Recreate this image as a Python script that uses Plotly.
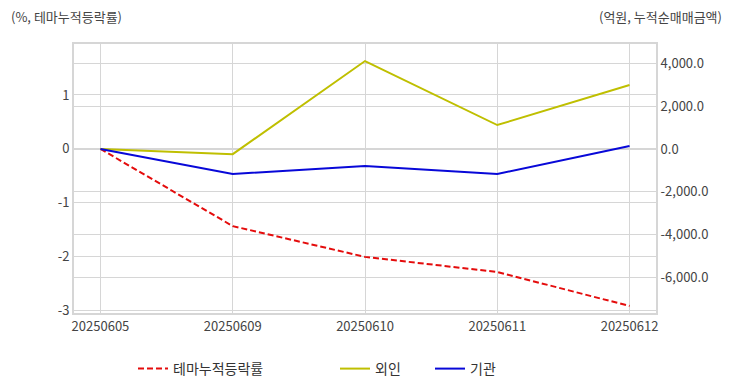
import plotly.graph_objects as go

dates = ["20250605", "20250609", "20250610", "20250611", "20250612"]
theme_pct = [0.0, -1.43, -2.0, -2.28, -2.91]
foreign = [0.0, -240.0, 4110.0, 1120.0, 2990.0]
institution = [0.0, -1170.0, -790.0, -1170.0, 140.0]

left_ticks = [-3, -2, -1, 0, 1]
left_labels = ["-3", "-2", "-1", "0", "1"]
right_ticks = [-6000, -4000, -2000, 0, 2000, 4000]
right_labels = ["-6,000.0", "-4,000.0", "-2,000.0", "0.0", "2,000.0", "4,000.0"]

FONT = "Noto Sans CJK KR"
W, H = 724, 384
L, R, T, B = 66, 76, 36, 79
PW, PH = W - L - R, H - T - B
LEG_Y = 1 - 361 / H

fig = go.Figure()
fig.add_trace(go.Scatter(x=dates, y=theme_pct, name="테마누적등락률", mode="lines",
                         line=dict(color="#e40c0c", width=2, dash="6px,3px"), yaxis="y",
                         legend="legend"))
fig.add_trace(go.Scatter(x=dates, y=foreign, name="외인", mode="lines",
                         line=dict(color="#bfbf00", width=2), yaxis="y2", legend="legend2"))
fig.add_trace(go.Scatter(x=dates, y=institution, name="기관", mode="lines",
                         line=dict(color="#0808d8", width=2), yaxis="y2", legend="legend2"))

grid = "#d6d6d6"
tickc = "#444"
fig.update_layout(
    width=W, height=H,
    margin=dict(l=L, r=R, t=T, b=B, autoexpand=False),
    plot_bgcolor="white", paper_bgcolor="white",
    font=dict(family=FONT, size=13, color=tickc),
    showlegend=True,
    legend=dict(orientation="h", xref="container", yref="container",
                x=125 / W, xanchor="left", y=LEG_Y, yanchor="middle",
                font=dict(size=14, color="#333"), bgcolor="rgba(0,0,0,0)"),
    legend2=dict(orientation="h", xref="container", yref="container",
                 x=327 / W, xanchor="left", y=LEG_Y, yanchor="middle",
                 font=dict(size=14, color="#333"), entrywidth=50,
                 bgcolor="rgba(0,0,0,0)"),
    xaxis=dict(type="category", range=[-0.2, 4.2], showgrid=True, gridcolor=grid,
               showline=True, linecolor=grid, linewidth=2, mirror=True, ticks="",
               tickfont=dict(size=13, color=tickc), automargin=False),
    yaxis=dict(range=[-3.04, 1.944], tickvals=left_ticks, ticktext=left_labels,
               showgrid=True, gridcolor=grid, automargin=False,
               zeroline=False, showline=True, linecolor=grid, linewidth=2,
               tickfont=dict(size=13, color=tickc), ticks=""),
    yaxis2=dict(range=[-7664, 4907], tickvals=right_ticks, ticktext=right_labels,
                overlaying="y", side="right", automargin=False,
                showgrid=True, gridcolor=grid, zeroline=False,
                showline=True, linecolor=grid, linewidth=2, ticks="",
                tickfont=dict(size=13, color=tickc)),
    annotations=[
        dict(text="(%, 테마누적등락률)", xref="paper", yref="paper", x=(1 - L) / PW, y=1.0,
             xanchor="left", yanchor="middle", yshift=T - 8, showarrow=False,
             font=dict(size=13, color="#444")),
        dict(text="(억원, 누적순매매금액)", xref="paper", yref="paper", x=(716 - L) / PW, y=1.0,
             xanchor="right", yanchor="middle", yshift=T - 8, showarrow=False,
             font=dict(size=13, color="#444")),
    ],
)
fig.write_html("out.html")
